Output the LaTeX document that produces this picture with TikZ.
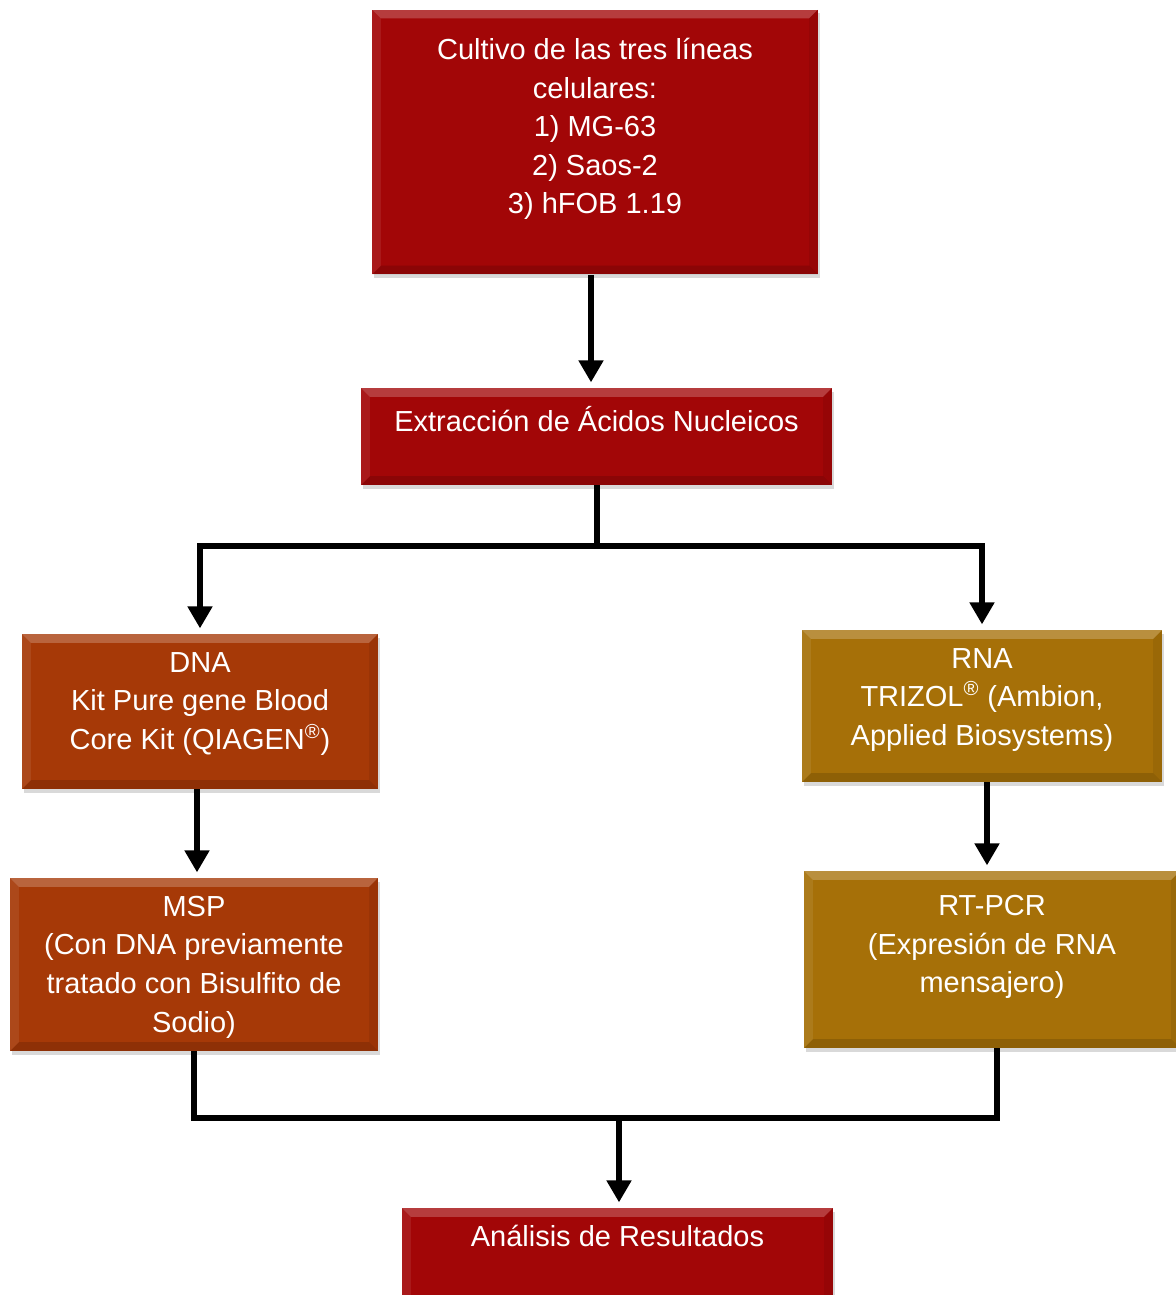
\documentclass[tikz,border=0pt]{standalone}
\usepackage{fontspec}
\setmainfont{Liberation Sans}
\usetikzlibrary{arrows.meta,positioning,shadows}
\definecolor{cultred}{RGB}{162,6,7}
\definecolor{dnaorange}{RGB}{166,57,7}
\definecolor{rnagold}{RGB}{166,112,8}
\begin{document}
\begin{tikzpicture}[
   x=0.02cm, y=-0.02cm,
   stepbox/.style={inner sep=0pt, draw=none,
      drop shadow={shadow xshift=1.2pt, shadow yshift=-2pt, opacity=0.3},
      path picture={
        \fill[white,opacity=0.22] (path picture bounding box.north west)
          -- (path picture bounding box.north east)
          -- ([shift={(-5pt,-5pt)}]path picture bounding box.north east)
          -- ([shift={(5pt,-5pt)}]path picture bounding box.north west) -- cycle;
        \fill[black,opacity=0.14] (path picture bounding box.south west)
          -- (path picture bounding box.south east)
          -- ([shift={(-5pt,5pt)}]path picture bounding box.south east)
          -- ([shift={(5pt,5pt)}]path picture bounding box.south west) -- cycle;
        \fill[black,opacity=0.07] (path picture bounding box.north east)
          -- (path picture bounding box.south east)
          -- ([shift={(-5pt,5pt)}]path picture bounding box.south east)
          -- ([shift={(-5pt,-5pt)}]path picture bounding box.north east) -- cycle;
        \fill[white,opacity=0.08] (path picture bounding box.north west)
          -- (path picture bounding box.south west)
          -- ([shift={(5pt,5pt)}]path picture bounding box.south west)
          -- ([shift={(5pt,-5pt)}]path picture bounding box.north west) -- cycle;
      }},
   redbox/.style={stepbox, fill=cultred},
   dnabox/.style={stepbox, fill=dnaorange},
   rnabox/.style={stepbox, fill=rnagold},
   boxtext/.style={text=white, align=center, inner sep=0pt,
      font=\fontsize{16.5}{22}\selectfont},
   conn/.style={line width=3.4pt, line join=miter},
   arrow/.style={conn, -{Triangle[length=12.5pt,width=13.5pt]}, shorten >=3pt}
]
\useasboundingbox (0,0) rectangle (1176,1295);

% boxes
\node[redbox, minimum width=8.92cm, minimum height=5.30cm] (cult) at (595,142) {};
\node[redbox, minimum width=9.42cm, minimum height=1.94cm] (extr) at (596.5,436.5) {};
\node[dnabox, minimum width=7.12cm, minimum height=3.10cm] (dna) at (200,711.5) {};
\node[rnabox, minimum width=7.20cm, minimum height=3.04cm] (rna) at (982,706) {};
\node[dnabox, minimum width=7.36cm, minimum height=3.46cm] (msp) at (194,964.5) {};
\node[rnabox, minimum width=7.52cm, minimum height=3.54cm] (rtpcr) at (992,959.5) {};
\node[redbox, minimum width=8.62cm, minimum height=1.94cm] (res) at (617.5,1256.5) {};

% texts
\node[boxtext] (cultT) at (595,129)
   {Cultivo de las tres líneas\\celulares:\\1) MG-63\\2) Saos-2\\3) hFOB 1.19};
\node[boxtext] (extrT) at (596.5,419) {Extracción de Ácidos Nucleicos};
\node[boxtext] (dnaT) at (200,704)
   {DNA\\Kit Pure gene Blood\\Core Kit (QIAGEN\textsuperscript{®})};
\node[boxtext] (rnaT) at (982,700)
   {RNA\\TRIZOL\textsuperscript{®} (Ambion,\\Applied Biosystems)};
\node[boxtext] (mspT) at (194,967)
   {MSP\\(Con DNA previamente\\tratado con Bisulfito de\\Sodio)};
\node[boxtext] (rtpcrT) at (992,947)
   {RT-PCR\\(Expresión de RNA\\mensajero)};
\node[boxtext] (resT) at (617.5,1236) {Análisis de Resultados};

% connectors
\coordinate (split) at (597,546);
\coordinate (merge) at (619,1118);
\draw[arrow] (cult.south -| 591,0) -- (extr.north -| 591,0);
\draw[conn] (extr.south -| split) -- (split);
\draw[arrow] (split) -| (dna.north);
\draw[arrow] (split) -| (rna.north);
\draw[arrow] (dna.south -| 197,0) -- (msp.north -| 197,0);
\draw[arrow] (rna.south -| 987,0) -- (rtpcr.north -| 987,0);
\draw[conn] (msp.south) |- (merge) -| (rtpcr.south -| 997,0);
\draw[arrow] (merge) -- (res.north -| merge);
\end{tikzpicture}
\end{document}
